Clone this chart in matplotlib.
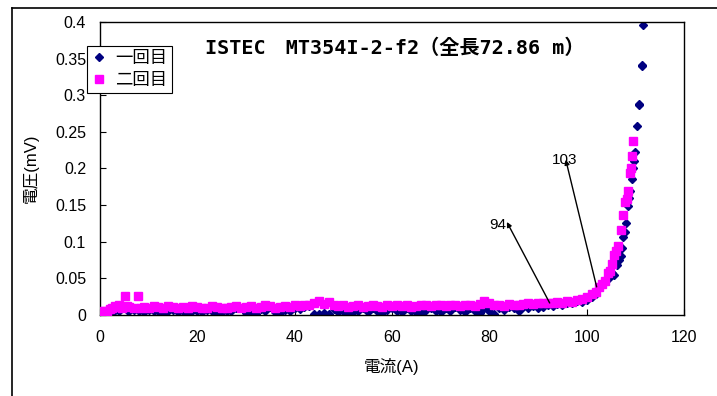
import matplotlib
matplotlib.use("Agg")
import matplotlib.pyplot as plt
from matplotlib.lines import Line2D

plt.rcParams['font.family'] = ['Liberation Sans', 'Noto Sans CJK JP']

title = "ISTEC\u3000MT354I-2-f2\uff08全長72.86 m\uff09"
xlabel = "電流(A)"
ylabel = "電圧(mV)"
series_names = ["一回目", "二回目"]

# 一回目
i1 = [0.5, 1, 1.5, 2, 2.5, 3, 3.5, 4, 4.5, 5, 5.5, 6, 7, 8, 9, 10, 11, 12, 13, 14,
      15, 16, 17, 18, 19, 20, 21, 22, 23, 24, 25, 26, 27, 28, 29, 30, 31, 32, 33, 34,
      35, 36, 37, 38, 39, 40, 41, 42, 43, 44, 45, 46, 47, 48, 49, 50, 51, 52, 53, 54,
      55, 56, 57, 58, 59, 60, 61, 62, 63, 64, 65, 66, 67, 68, 69, 70, 71, 72, 73, 74,
      75, 76, 77, 78, 79, 80, 81, 82, 83, 84, 85, 86, 87, 88, 89, 90, 91, 92, 93, 94,
      95, 96, 97, 98, 99, 100, 101, 102, 102.9, 103.7, 104.5, 105.2, 105.6, 106.2, 106.7,
      107.0, 107.2, 107.4, 107.8, 108.1, 108.5, 108.7, 108.9, 109.3, 109.6, 109.8, 110.0,
      110.4, 110.7, 110.8, 111.3, 111.4, 111.6]
v1 = [0.002, 0.001, 0.004, 0.006, 0.003, 0.007, 0.008, 0.005, 0.009, 0.010, 0.007, 0.005,
      0.007, 0.006, 0.004, 0.007, 0.005, 0.006, 0.003, 0.005, 0.007, 0.004, 0.006, 0.003,
      0.005, 0.006, 0.004, 0.007, 0.005, 0.002, 0.004, 0.006, 0.005, 0.009, 0.010, 0.003,
      0.005, 0.002, 0.008, 0.006, 0.011, 0.004, 0.003, 0.007, 0.006, 0.010, 0.008, 0.011,
      0.012, 0.002, 0.001, 0.003, 0.002, 0.008, 0.004, 0.005, 0.002, 0.004, 0.006, 0.010,
      0.004, 0.009, 0.006, 0.003, 0.007, 0.010, 0.005, 0.004, 0.009, 0.006, 0.004, 0.002,
      0.007, 0.010, 0.006, 0.004, 0.009, 0.005, 0.011, 0.007, 0.004, 0.010, 0.006, 0.003,
      0.009, 0.005, 0.002, 0.010, 0.007, 0.011, 0.009, 0.006, 0.011, 0.010, 0.012, 0.009,
      0.011, 0.013, 0.012, 0.015, 0.014, 0.017, 0.016, 0.019, 0.018, 0.020, 0.024, 0.028,
      0.039, 0.045, 0.050, 0.058, 0.055, 0.068, 0.075, 0.080, 0.092, 0.107, 0.113, 0.126,
      0.149, 0.160, 0.169, 0.185, 0.201, 0.210, 0.222, 0.258, 0.287, 0.288, 0.341, 0.340,
      0.396]

# 二回目
i2 = [0.5, 1, 1.5, 2, 2.5, 3, 3.5, 4, 4.5, 5.1, 5.5, 6, 7, 7.8, 8.5, 9, 10, 11, 12, 13,
      14, 15, 16, 17, 18, 19, 20, 21, 22, 23, 24, 25, 26, 27, 28, 29, 30, 31, 32, 33,
      34, 35, 36, 37, 38, 39, 40, 41, 42, 43, 44, 45, 46, 47, 48, 49, 50, 51, 52, 53,
      54, 55, 56, 57, 58, 59, 60, 61, 62, 63, 64, 65, 66, 67, 68, 69, 70, 71, 72, 73,
      74, 75, 76, 77, 78, 79, 80, 81, 82, 83, 84, 85, 86, 87, 88, 89, 90, 91, 92, 93,
      94, 95, 96, 97, 98, 99, 100, 101, 102, 102.6, 103.2, 103.7, 104.4, 104.8, 105.3,
      105.7, 106.1, 106.4, 107.0, 107.4, 107.9, 108.2, 108.5, 109.0, 109.2, 109.4, 109.5]
v2 = [0.005, 0.006, 0.004, 0.008, 0.010, 0.012, 0.011, 0.013, 0.010, 0.026, 0.012, 0.011,
      0.010, 0.026, 0.009, 0.011, 0.010, 0.012, 0.011, 0.010, 0.012, 0.011, 0.009, 0.011,
      0.010, 0.012, 0.011, 0.009, 0.010, 0.012, 0.011, 0.010, 0.009, 0.011, 0.012, 0.010,
      0.011, 0.012, 0.010, 0.011, 0.013, 0.012, 0.010, 0.011, 0.012, 0.011, 0.013, 0.012,
      0.014, 0.013, 0.016, 0.019, 0.015, 0.018, 0.014, 0.012, 0.013, 0.011, 0.012, 0.013,
      0.011, 0.012, 0.013, 0.012, 0.011, 0.013, 0.012, 0.014, 0.012, 0.013, 0.011, 0.012,
      0.014, 0.013, 0.012, 0.014, 0.013, 0.012, 0.013, 0.014, 0.012, 0.013, 0.014, 0.012,
      0.015, 0.019, 0.016, 0.013, 0.014, 0.012, 0.015, 0.013, 0.014, 0.015, 0.016, 0.015,
      0.017, 0.016, 0.017, 0.016, 0.018, 0.017, 0.019, 0.018, 0.020, 0.022, 0.024, 0.028,
      0.032, 0.038, 0.042, 0.046, 0.057, 0.060, 0.069, 0.082, 0.088, 0.094, 0.116, 0.136,
      0.154, 0.158, 0.169, 0.194, 0.200, 0.217, 0.237]

annot_labels = ["94", "103"]

W, H = 717, 396
fig = plt.figure(figsize=(W / 100, H / 100), dpi=100)
ax = fig.add_axes([100 / W, 1 - 315 / H, 584 / W, 293 / H])

ax.plot(i1, v1, linestyle='none', marker='D', markersize=4.0, color='#000080',
        markeredgecolor='#000080', label=series_names[0], zorder=2)
ax.plot(i2, v2, linestyle='none', marker='s', markersize=5.3, color='#FF00FF',
        markeredgecolor='#FF00FF', label=series_names[1], zorder=3)

ax.set_xlim(0, 120)
ax.set_ylim(0, 0.4)
ax.set_xticks([0, 20, 40, 60, 80, 100, 120])
yt = [0, 0.05, 0.1, 0.15, 0.2, 0.25, 0.3, 0.35, 0.4]
ax.set_yticks(yt)
ax.set_yticklabels([f"{v:g}" for v in yt])
ax.tick_params(axis='both', direction='in', length=4, width=0.8, labelsize=11.5,
               colors='black')
ax.tick_params(axis='x', pad=11)
ax.tick_params(axis='y', pad=10)
for s in ax.spines.values():
    s.set_linewidth(1.0)
    s.set_color('black')

ax.set_xlabel(xlabel, fontsize=12, labelpad=9)
ax.set_ylabel(ylabel, fontsize=12, labelpad=12)

# annotations
ax.annotate("", xy=(83.6, 0.127), xytext=(92.4, 0.0164),
            arrowprops=dict(arrowstyle='-|>', color='black', lw=1, mutation_scale=7,
                            shrinkA=0, shrinkB=0), zorder=5)
ax.text(81.7, 0.123, annot_labels[0], fontsize=11, ha='center', va='center', zorder=6)
ax.annotate("", xy=(95.7, 0.212), xytext=(102.05, 0.0384),
            arrowprops=dict(arrowstyle='-|>', color='black', lw=1, mutation_scale=7,
                            shrinkA=0, shrinkB=0), zorder=5)
ax.text(95.5, 0.212, annot_labels[1], fontsize=11, ha='center', va='center', zorder=6)

fig.text(395 / W, 1 - 48 / H, title, fontsize=14.5, fontweight='bold',
         family=['DejaVu Sans Mono', 'Noto Sans CJK JP'], ha='center', va='center')

leg = fig.legend(loc='upper left', bbox_to_anchor=(87 / W, 1 - 46 / H),
                 fontsize=12.5, frameon=True, fancybox=False, edgecolor='black',
                 framealpha=1, borderpad=0.3, handlelength=0.8, handletextpad=0.5,
                 labelspacing=0.35, borderaxespad=0)
leg.get_frame().set_linewidth(0.8)

# outer chart border (left and top)
fig.add_artist(Line2D([12 / W, 12 / W], [0, 1 - 8 / H], transform=fig.transFigure,
                      color='black', lw=1.2))
fig.add_artist(Line2D([12 / W, 1], [1 - 8 / H, 1 - 8 / H], transform=fig.transFigure,
                      color='black', lw=1.2))

fig.savefig("out.png", dpi=100)
